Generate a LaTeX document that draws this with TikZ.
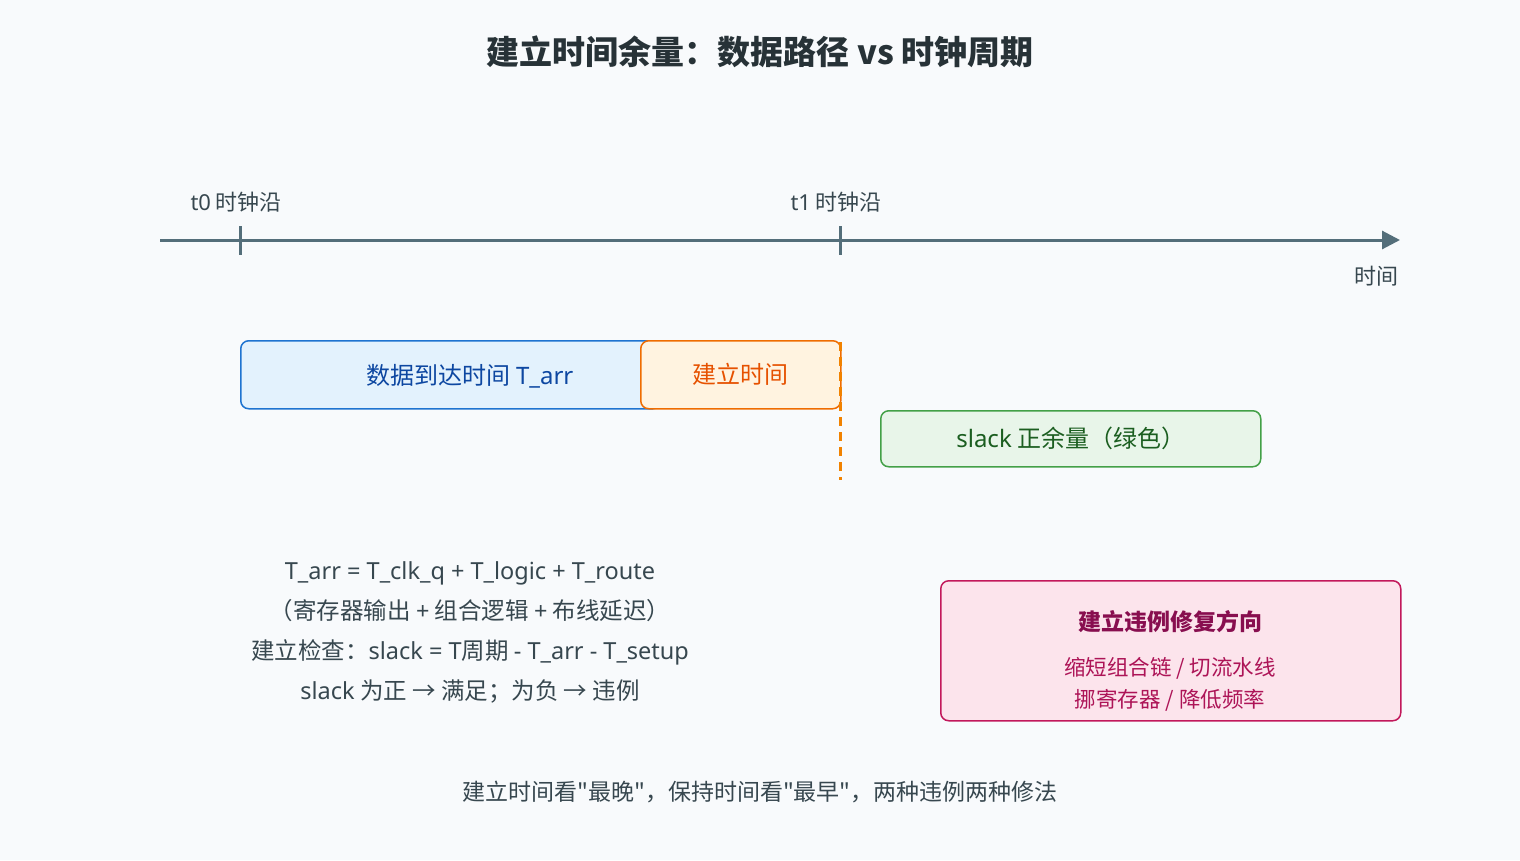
\documentclass[tikz,border=0pt]{standalone}
\usepackage{fontspec}
\setmainfont{Noto Sans CJK SC}
\newfontfamily\lat{Noto Sans}
\newfontfamily\qf{Noto Sans CJK SC}
\usetikzlibrary{arrows.meta}
\definecolor{bg}{HTML}{F8FAFC}
\definecolor{ax}{HTML}{546E7A}
\definecolor{txt}{HTML}{37474F}
\definecolor{bfill}{HTML}{E3F2FD}\definecolor{bdraw}{HTML}{1E74D0}\definecolor{btxt}{HTML}{0D47A1}
\definecolor{ofill}{HTML}{FFF3E0}\definecolor{odraw}{HTML}{EF6C00}\definecolor{otxt}{HTML}{E65100}
\definecolor{gfill}{HTML}{E8F5E9}\definecolor{gdraw}{HTML}{43A047}\definecolor{gtxt}{HTML}{1B5E20}
\definecolor{pfill}{HTML}{FCE4EC}\definecolor{pdraw}{HTML}{C2185B}\definecolor{ptit}{HTML}{880E4F}\definecolor{ptxt}{HTML}{AD1457}
\begin{document}
\begin{tikzpicture}[x=1pt,y=-1pt,
 box/.style={draw,line width=1.5pt,rounded corners=8pt,anchor=north west,inner sep=0pt,font=\fontsize{24}{28}\selectfont},
 lbl/.style={text=txt,font=\fontsize{22}{26}\selectfont},
 tick/.style={ax,line width=3pt}]
\fill[bg] (0,0) rectangle (1520,860);
\useasboundingbox (0,0) rectangle (1520,860);
\node[font=\fontsize{33}{36}\selectfont\bfseries,text=txt!70!black] (title) at (760,52) {建立时间余量：数据路径 vs 时钟周期};
\coordinate (a0) at (160,240); \coordinate (a1) at (1400,240);
\draw[ax,line width=3pt,-{Triangle[length=18pt,width=18pt]}] (a0) -- (a1);
\coordinate (t0a) at (240,226); \coordinate (t0b) at (240,255);
\coordinate (t1a) at (840,226); \coordinate (t1b) at (840,255);
\draw[tick] (t0a)--(t0b); \draw[tick] (t1a)--(t1b);
\node[lbl,anchor=west] (l0) at (187,202) {{\lat t0} 时钟沿};
\node[lbl,anchor=west] (l1) at (787,202) {{\lat t1} 时钟沿};
\node[lbl,anchor=east] (lt) at (1402,276) {时间};
\node[box,fill=bfill,draw=bdraw,text=btxt,minimum width=420pt,minimum height=68pt] (arr) at (240,340) {};
\node[text=btxt,font=\fontsize{24}{28}\selectfont] at (470,376) {数据到达时间 {\lat T\_arr}};
\node[box,fill=ofill,draw=odraw,text=otxt,minimum width=200pt,minimum height=68pt] (su) at (640,340) {建立时间};
\coordinate (d0) at (840,342); \coordinate (d1) at (840,480);
\draw[odraw!85!yellow,line width=3pt,dash pattern=on 9pt off 6pt] (d0)--(d1);
\node[box,fill=gfill,draw=gdraw,text=gtxt,minimum width=380pt,minimum height=56pt] (sl) at (880,410) {{\lat slack} 正余量（绿色）};
\node[lbl,align=center,font=\fontsize{23.5}{40}\selectfont] (f) at (470,632) {{\lat T\_arr = T\_clk\_q + T\_logic + T\_route}\\（寄存器输出 {\lat +} 组合逻辑 {\lat +} 布线延迟）\\建立检查：{\lat slack = T}周期 {\lat - T\_arr - T\_setup}\\{\lat slack} 为正 → 满足；为负 → 违例};
\node[box,fill=pfill,draw=pdraw,minimum width=460pt,minimum height=140pt] (fix) at (940,580) {};
\node[text=ptit,font=\fontsize{23}{26}\selectfont\bfseries] at (1170,622) {建立违例修复方向};
\node[text=ptxt,align=center,font=\fontsize{21.5}{32}\selectfont] at (1170,684) {缩短组合链 / 切流水线\\挪寄存器 / 降低频率};
\node[lbl,font=\fontsize{23}{26}\selectfont] (note) at (760,792) {建立时间看{\qf "}最晚{\qf "}，保持时间看{\qf "}最早{\qf "}，两种违例两种修法};
\end{tikzpicture}
\end{document}
